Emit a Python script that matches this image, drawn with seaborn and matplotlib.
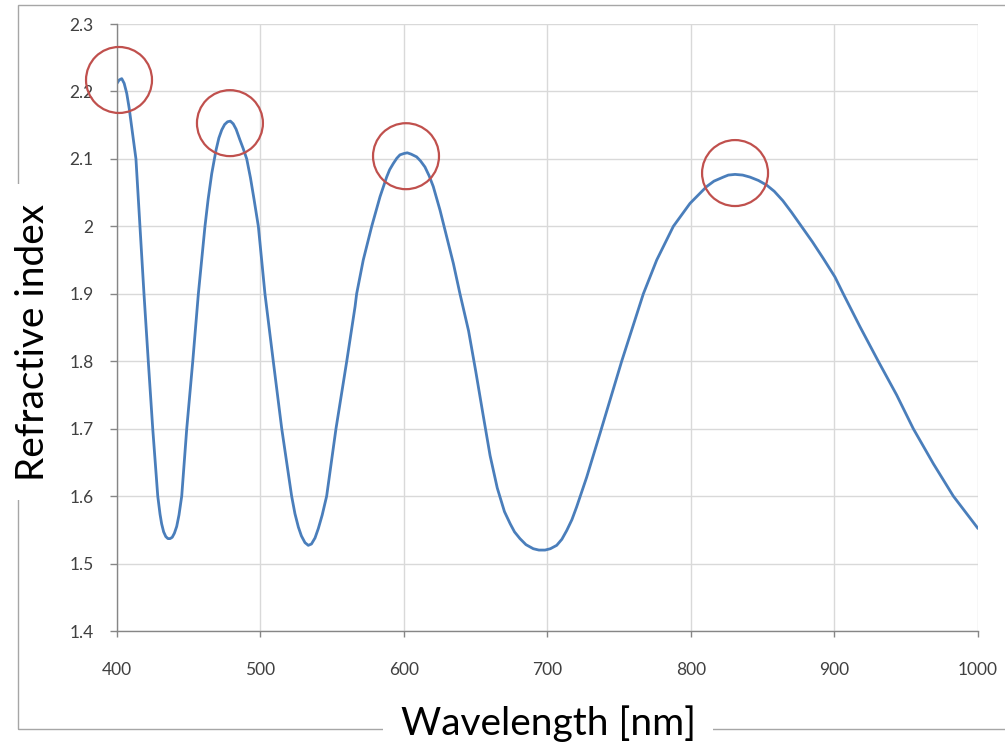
import matplotlib
matplotlib.use("Agg")
import matplotlib.pyplot as plt
import seaborn as sns
import pandas as pd
from matplotlib.patches import Rectangle

# ---- data ----
wavelength = [400.0, 401.5, 403.3, 405.0, 406.8, 408.5, 410.2, 413.2, 416.0, 418.8,
              421.8, 424.9, 428.4, 430.0, 431.1, 432.5, 434.0, 435.5, 437.0, 438.5,
              440.0, 441.6, 443.2, 445.1, 448.6, 452.8, 456.7, 461.3, 463.5, 466.0,
              469.0, 471.0, 473.0, 475.0, 477.0, 479.0, 481.0, 483.0, 485.7, 488.0,
              490.4, 493.0, 495.5, 498.5, 503.1, 508.9, 514.8, 521.7, 524.0, 526.4,
              528.5, 531.0, 533.3, 535.5, 538.0, 540.3, 543.0, 546.1, 552.6, 560.1,
              565.9, 567.0, 571.6, 577.5, 583.3, 587.9, 590.0, 592.5, 595.0, 597.2,
              600.0, 602.3, 605.0, 608.8, 611.5, 614.6, 617.5, 620.4, 625.1, 629.8,
              634.4, 639.0, 645.0, 650.0, 655.0, 660.0, 665.0, 670.0, 674.0, 677.0,
              680.8, 685.0, 690.1, 694.0, 698.3, 702.0, 706.4, 710.0, 713.4, 717.0,
              720.3, 727.3, 736.6, 751.7, 766.8, 776.1, 787.7, 799.3, 810.9, 816.0,
              822.5, 826.0, 830.7, 836.0, 841.1, 847.0, 852.8, 858.0, 864.0, 870.0,
              876.0, 884.6, 892.0, 900.3, 906.1, 917.8, 930.5, 943.3, 954.9, 968.9,
              982.8, 992.1, 1000.0]
refr_index = [2.212, 2.217, 2.219, 2.212, 2.197, 2.175, 2.148, 2.100, 2.000, 1.900,
              1.800, 1.700, 1.600, 1.573, 1.559, 1.547, 1.540, 1.537, 1.537, 1.539,
              1.545, 1.555, 1.572, 1.600, 1.700, 1.800, 1.900, 2.000, 2.040, 2.078,
              2.113, 2.131, 2.143, 2.151, 2.155, 2.156, 2.152, 2.144, 2.128, 2.115,
              2.100, 2.072, 2.040, 2.000, 1.900, 1.800, 1.700, 1.600, 1.574, 1.554,
              1.541, 1.531, 1.527, 1.529, 1.538, 1.552, 1.572, 1.600, 1.700, 1.800,
              1.881, 1.900, 1.950, 2.000, 2.044, 2.073, 2.084, 2.093, 2.101, 2.106,
              2.108, 2.109, 2.107, 2.103, 2.097, 2.088, 2.075, 2.059, 2.024, 1.984,
              1.945, 1.900, 1.845, 1.785, 1.722, 1.660, 1.612, 1.577, 1.559, 1.547,
              1.537, 1.528, 1.522, 1.520, 1.520, 1.522, 1.527, 1.536, 1.549, 1.565,
              1.584, 1.628, 1.693, 1.800, 1.900, 1.950, 2.000, 2.034, 2.059, 2.067,
              2.073, 2.076, 2.077, 2.076, 2.073, 2.068, 2.061, 2.052, 2.038, 2.021,
              2.003, 1.977, 1.953, 1.925, 1.900, 1.851, 1.800, 1.750, 1.700, 1.648,
              1.600, 1.574, 1.552]

peak_x = [401.4, 478.7, 601.4, 830.7]
peak_y = [2.217, 2.153, 2.104, 2.079]

x_ticks = [400, 500, 600, 700, 800, 900, 1000]
y_ticks = [1.4, 1.5, 1.6, 1.7, 1.8, 1.9, 2.0, 2.1, 2.2, 2.3]
y_tick_labels = ["1.4", "1.5", "1.6", "1.7", "1.8", "1.9", "2", "2.1", "2.2", "2.3"]

df = pd.DataFrame({"wavelength": wavelength, "n": refr_index})

sns.set_theme(style="white")
plt.rcParams["font.family"] = ["Lato", "DejaVu Sans"]

fig = plt.figure(figsize=(10.05, 7.45), dpi=100)
ax = fig.add_axes([117/1005, 1 - 631/745, (978-117)/1005, (631-24)/745])

sns.lineplot(data=df, x="wavelength", y="n", ax=ax, color="#4a7ebb",
             linewidth=2.0, sort=False)
ax.scatter(peak_x, peak_y, s=2256, marker="o", facecolors="none",
           edgecolors="#c0504d", linewidths=1.6, clip_on=False, zorder=4)

ax.set_xlim(400, 1000)
ax.set_ylim(1.4, 2.3)
ax.set_xticks(x_ticks)
ax.set_yticks(y_ticks)
ax.set_yticklabels(y_tick_labels)
ax.grid(True, color="#d9d9d9", linewidth=1.0)
ax.set_axisbelow(True)
for s in ["top", "right"]:
    ax.spines[s].set_visible(False)
for s in ["left", "bottom"]:
    ax.spines[s].set_color("#868686")
    ax.spines[s].set_linewidth(1.0)
ax.tick_params(axis="y", which="major", direction="out", length=5, width=1,
               color="#868686", pad=12, labelsize=12.5, labelcolor="#404040", left=True)
ax.tick_params(axis="x", which="major", direction="out", length=4.5, width=1,
               color="#868686", pad=18, labelsize=12.5, labelcolor="#404040", bottom=True)
ax.set_xlabel("")
ax.set_ylabel("")

# outer frame
fig.add_artist(Rectangle((18/1005, 1 - 729/745), 1.2, (729-5)/745,
                         transform=fig.transFigure, fill=False,
                         edgecolor="#a6a6a6", linewidth=1.0))

fig.text(548/1005, 1 - 724/745, "Wavelength [nm]", fontsize=28, ha="center",
         va="center", color="black",
         bbox=dict(boxstyle="square,pad=0.45", facecolor="white", edgecolor="none"))
fig.text(33/1005, 1 - 342/745, "Refractive index", fontsize=28, ha="center",
         va="center", rotation=90, color="black",
         bbox=dict(boxstyle="square,pad=0.5", facecolor="white", edgecolor="none"))

fig.savefig("out.png", dpi=100)
